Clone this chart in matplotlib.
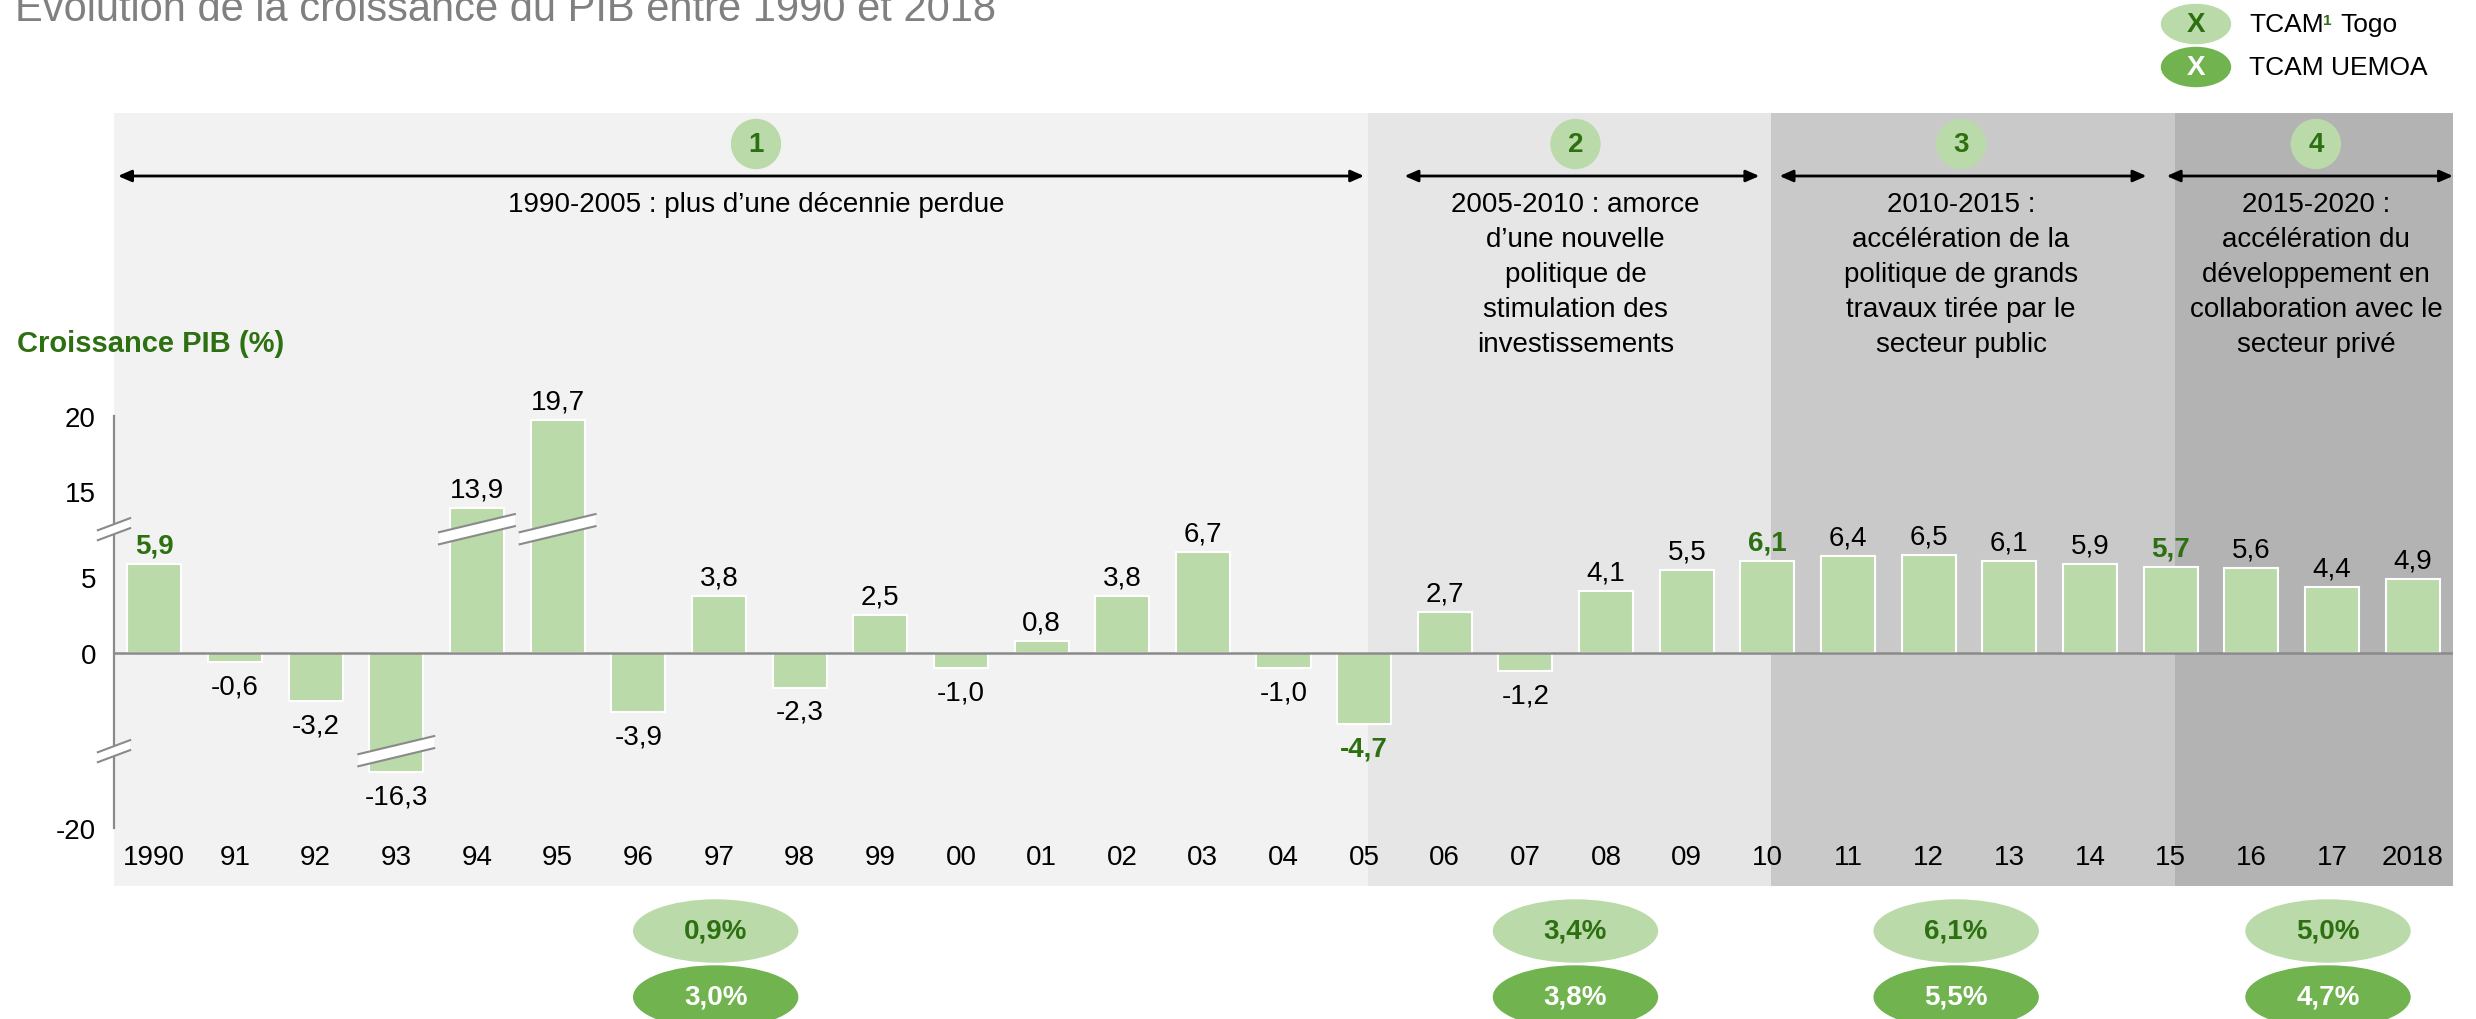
import matplotlib
matplotlib.use("Agg")
from matplotlib import pyplot as plt
from matplotlib import transforms
from matplotlib.patches import Ellipse, Polygon

plt.rcParams["font.family"] = ["Liberation Sans", "DejaVu Sans"]

# data
YEARS = ["1990", "91", "92", "93", "94", "95", "96", "97", "98", "99", "00", "01",
         "02", "03", "04", "05", "06", "07", "08", "09", "10", "11", "12", "13",
         "14", "15", "16", "17", "2018"]
GROWTH = [5.9, -0.6, -3.2, -16.3, 13.9, 19.7, -3.9, 3.8, -2.3, 2.5, -1.0, 0.8,
          3.8, 6.7, -1.0, -4.7, 2.7, -1.2, 4.1, 5.5, 6.1, 6.4, 6.5, 6.1, 5.9,
          5.7, 5.6, 4.4, 4.9]
HIGHLIGHT = [0, 15, 20, 25]
BROKEN_BARS = [3, 4, 5]

YTICKS = [20, 15, 5, 0, -20]

PERIOD_NUMBERS = ["1", "2", "3", "4"]
PERIOD_TEXTS = [
    "1990-2005 : plus d’une décennie perdue",
    "2005-2010 : amorce\nd’une nouvelle\npolitique de\nstimulation des\ninvestissements",
    "2010-2015 :\naccélération de la\npolitique de grands\ntravaux tirée par le\nsecteur public",
    "2015-2020 :\naccélération du\ndéveloppement en\ncollaboration avec le\nsecteur privé",
]
TCAM_TOGO = ["0,9%", "3,4%", "6,1%", "5,0%"]
TCAM_UEMOA = ["3,0%", "3,8%", "5,5%", "4,7%"]

# layout
W, H = 2476, 1020
PERIOD_EDGES = [-0.5, 15.05, 20.05, 25.05, 28.5]
PERIOD_SHADES = ["#f2f2f2", "#e6e6e6", "#c9c9c9", "#b3b3b3"]
PERIOD_CENTERS = [7.46, 17.62, 22.4, 26.8]
ARROW_SPANS = [(-0.45, 15.0), (15.5, 19.9), (20.15, 24.7), (24.95, 28.5)]
PILL_CENTERS = [6.96, 17.62, 22.34, 26.95]

UPPER_GAP = 4.3
LOWER_GAP = 8.4

BAR = "#bbdaa9"
DARK = "#70b34f"
GREEN_TXT = "#2d7012"
AXIS_GRAY = "#8a8a8a"
FS = 20


def squash(v):
    # broken axis: pull the big values back towards the centre
    if v > 12:
        return v - UPPER_GAP
    if v < -8:
        return v + LOWER_GAP
    return v


def break_mark(ax, xc, yc, hw, hr, g):
    pts = [(xc - hw, yc - hr - g), (xc + hw, yc + hr - g),
           (xc + hw, yc + hr + g), (xc - hw, yc - hr + g)]
    ax.add_patch(Polygon(pts, closed=True, facecolor="white", edgecolor="none",
                         zorder=6, clip_on=False))
    ax.plot([xc - hw, xc + hw], [yc - hr - g, yc + hr - g], color=AXIS_GRAY,
            lw=1.5, zorder=7, clip_on=False)
    ax.plot([xc - hw, xc + hw], [yc - hr + g, yc + hr + g], color=AXIS_GRAY,
            lw=1.5, zorder=7, clip_on=False)


def fig_ellipse(fig, cx, cy, w, h, color):
    fig.patches.append(Ellipse((cx / W, 1 - cy / H), w / W, h / H, color=color,
                               transform=fig.transFigure, figure=fig))


def main():
    fig = plt.figure(figsize=(W / 100, H / 100), dpi=100)
    px = 15.1  # pixels per unit
    top, bot = 114, 887
    zero = 654
    ax = fig.add_axes([114 / W, 1 - bot / H, (2453 - 114) / W, (bot - top) / H])
    ax.set_xlim(-0.5, 28.5)
    ax.set_ylim((zero - bot) / px, (zero - top) / px)

    for s in ["top", "right", "bottom"]:
        ax.spines[s].set_visible(False)
    ax.spines["left"].set_color(AXIS_GRAY)
    ax.spines["left"].set_linewidth(1.6)
    ax.spines["left"].set_bounds(squash(-20), squash(20))
    ax.spines["left"].set_zorder(5)

    # period shading
    for i, c in enumerate(PERIOD_SHADES):
        ax.axvspan(PERIOD_EDGES[i], PERIOD_EDGES[i + 1], color=c, zorder=0, lw=0)

    xs = list(range(len(YEARS)))
    ys = [squash(v) for v in GROWTH]
    ax.bar(xs, ys, width=0.67, color=BAR, edgecolor="white", linewidth=1.5, zorder=3)
    ax.axhline(0, color=AXIS_GRAY, lw=1.8, zorder=4)

    # value labels
    for i, (v, y) in enumerate(zip(GROWTH, ys)):
        lab = ("%.1f" % v).replace(".", ",")
        bold = i in HIGHLIGHT
        ax.annotate(lab, (i, y), xytext=(0, 4 if v >= 0 else -8),
                    textcoords="offset points", ha="center",
                    va="bottom" if v >= 0 else "top", fontsize=FS,
                    fontweight="bold" if bold else "normal",
                    color=GREEN_TXT if bold else "black", zorder=8)

    # x labels
    for i, yr in enumerate(YEARS):
        ax.text(i, (zero - 858) / px, yr, ha="center", va="center", fontsize=FS)

    ax.set_xticks([])
    ax.set_yticks([squash(t) for t in YTICKS])
    ax.set_yticklabels([str(t) for t in YTICKS], fontsize=FS)
    ax.tick_params(axis="y", length=0, pad=13)

    # breaks
    for i in BROKEN_BARS:
        yc = 8.2 if GROWTH[i] > 0 else -6.5
        break_mark(ax, i, yc, 0.47, 0.6, 0.4)
    for yc in (8.2, -6.5):
        break_mark(ax, -0.5, yc, 0.2, 0.4, 0.33)

    # period headers
    yc_circle = (zero - 145) / px
    y_arrow = (zero - 177) / px
    for k in range(4):
        xc = PERIOD_CENTERS[k]
        ax.add_patch(Ellipse((xc, yc_circle), 49 / 80.66, 49 / px, color=BAR,
                             zorder=5, clip_on=False))
        ax.text(xc, yc_circle, PERIOD_NUMBERS[k], ha="center", va="center",
                fontsize=FS, fontweight="bold", color=GREEN_TXT, zorder=6)
        x0, x1 = ARROW_SPANS[k]
        ax.annotate("", xy=(x1, y_arrow), xytext=(x0, y_arrow),
                    arrowprops=dict(arrowstyle="<|-|>,head_length=0.8,head_width=0.35",
                                    color="black", lw=2, shrinkA=0, shrinkB=0),
                    zorder=6)
        # one line at a time so the spacing stays even
        for j, line in enumerate(PERIOD_TEXTS[k].split("\n")):
            ax.text(xc, (zero - 212 - 35 * j) / px, line, ha="center",
                    va="baseline", fontsize=FS, zorder=6)

    # TCAM pills below the chart
    tr = transforms.blended_transform_factory(ax.transData, fig.transFigure)
    for k in range(4):
        for cy, col, lab, tc in ((932, BAR, TCAM_TOGO[k], GREEN_TXT),
                                 (998, DARK, TCAM_UEMOA[k], "white")):
            ax.add_patch(Ellipse((PILL_CENTERS[k], 1 - cy / H), 164 / 80.66, 62 / H,
                                 color=col, transform=tr, clip_on=False))
            ax.text(PILL_CENTERS[k], 1 - cy / H, lab, transform=tr, ha="center",
                    va="center", fontsize=FS, fontweight="bold", color=tc)

    # legend top right
    fig_ellipse(fig, 2196, 25, 69, 39, BAR)
    fig_ellipse(fig, 2196, 68, 69, 39, DARK)
    fig.text(2196 / W, 1 - 25 / H, "X", ha="center", va="center", fontsize=20,
             fontweight="bold", color=GREEN_TXT)
    fig.text(2196 / W, 1 - 68 / H, "X", ha="center", va="center", fontsize=20,
             fontweight="bold", color="white")
    fig.text(2249 / W, 1 - 32 / H, "TCAM", ha="left", va="baseline", fontsize=19)
    fig.text(2323 / W, 1 - 25 / H, "1", ha="left", va="baseline", fontsize=11,
             fontweight="bold", color=GREEN_TXT)
    fig.text(2340 / W, 1 - 32 / H, "Togo", ha="left", va="baseline", fontsize=19)
    fig.text(2249 / W, 1 - 75 / H, "TCAM UEMOA", ha="left", va="baseline", fontsize=19)

    # titles
    fig.text(15 / W, 1 - 21 / H, "Evolution de la croissance du PIB entre 1990 et 2018",
             ha="left", va="baseline", fontsize=30, color="#808080")
    fig.text(17 / W, 1 - 344 / H, "Croissance PIB (%)", ha="left", va="center",
             fontsize=21, fontweight="bold", color=GREEN_TXT)

    fig.savefig("out.png", dpi=100)


if __name__ == "__main__":
    main()
